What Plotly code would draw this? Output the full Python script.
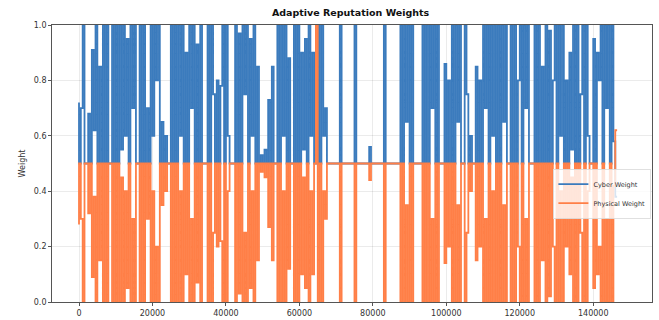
import plotly.graph_objects as go

# time steps (samples every 500 units)
time_step = list(range(0, 147000, 500))

cyber_weight = [
    0.72, 0.5, 0.70, 1.0, 0.5, 0.5, 0.68, 0.5, 0.91, 0.62,
    1.0, 0.5, 0.85, 0.5, 1.0, 0.5, 1.0, 0.5, 0.5, 1.0,
    0.5, 1.0, 0.5, 1.0, 0.55, 1.0, 0.6, 0.95, 0.5, 1.0,
    0.7, 1.0, 0.5, 0.5, 1.0, 0.5, 1.0, 0.5, 0.7, 0.5,
    1.0, 0.6, 1.0, 0.8, 1.0, 0.5, 0.65, 0.5, 0.6, 0.5,
    0.5, 1.0, 0.5, 1.0, 0.5, 1.0, 0.6, 1.0, 0.5, 0.9,
    0.5, 1.0, 0.7, 1.0, 0.5, 0.93, 0.5, 1.0, 0.5, 0.5,
    0.5, 1.0, 0.5, 1.0, 0.75, 0.5, 0.8, 0.5, 0.78, 1.0,
    0.5, 1.0, 0.6, 0.5, 0.5, 0.5, 1.0, 0.5, 0.97, 0.5,
    1.0, 0.75, 1.0, 0.5, 0.95, 0.6, 1.0, 0.5, 0.85, 0.5,
    0.53, 0.5, 0.55, 0.5, 0.73, 0.5, 0.85, 0.5, 0.5, 1.0,
    0.5, 1.0, 0.6, 1.0, 0.5, 0.88, 0.5, 0.5, 1.0, 0.5,
    1.0, 0.5, 0.9, 0.55, 0.95, 0.5, 1.0, 0.6, 0.9, 0.5,
    0.5, 1.0, 0.5, 1.0, 0.6, 0.7, 0.5, 0.5, 0.5, 0.5,
    0.5, 0.5, 0.5, 1.0, 0.5, 0.5, 0.5, 0.5, 0.5, 0.5,
    0.5, 1.0, 0.5, 0.5, 0.5, 0.5, 0.5, 0.5, 0.5, 0.56,
    0.5, 0.5, 0.5, 0.5, 0.5, 0.5, 0.5, 1.0, 0.5, 0.5,
    0.5, 0.5, 0.5, 0.5, 0.5, 0.5, 1.0, 0.5, 1.0, 0.65,
    1.0, 0.5, 1.0, 0.5, 0.5, 0.5, 0.5, 0.5, 1.0, 0.5,
    1.0, 0.5, 1.0, 0.7, 1.0, 0.5, 1.0, 0.5, 0.5, 0.5,
    0.86, 0.5, 0.8, 0.5, 1.0, 0.5, 1.0, 0.65, 1.0, 0.5,
    0.5, 1.0, 0.75, 0.5, 0.6, 0.5, 0.5, 0.85, 0.5, 0.8,
    0.5, 1.0, 0.7, 1.0, 0.5, 1.0, 0.6, 1.0, 0.5, 1.0,
    0.5, 1.0, 0.65, 1.0, 0.5, 0.5, 1.0, 0.5, 1.0, 0.5,
    0.8, 1.0, 0.5, 1.0, 0.7, 1.0, 0.5, 0.5, 0.5, 1.0,
    0.5, 1.0, 0.5, 0.85, 0.5, 1.0, 0.5, 0.98, 0.5, 0.8,
    1.0, 0.5, 1.0, 0.6, 1.0, 0.5, 0.8, 0.5, 0.9, 0.55,
    1.0, 0.5, 1.0, 0.5, 0.75, 1.0, 0.5, 1.0, 0.6, 0.5,
    0.5, 0.95, 0.5, 0.9, 0.8, 1.0, 0.5, 1.0, 0.7, 1.0,
    0.5, 1.0, 0.58, 0.38,
]

physical_weight = [
    0.28, 0.5, 0.30, 0.0, 0.5, 0.5, 0.32, 0.5, 0.09, 0.38,
    0.0, 0.5, 0.15, 0.5, 0.0, 0.5, 0.0, 0.5, 0.5, 0.0,
    0.5, 0.0, 0.5, 0.0, 0.45, 0.0, 0.4, 0.05, 0.5, 0.0,
    0.3, 0.0, 0.5, 0.5, 0.0, 0.5, 0.0, 0.5, 0.3, 0.5,
    0.0, 0.4, 0.0, 0.2, 0.0, 0.5, 0.35, 0.5, 0.4, 0.5,
    0.5, 0.0, 0.5, 0.0, 0.5, 0.0, 0.4, 0.0, 0.5, 0.1,
    0.5, 0.0, 0.3, 0.0, 0.5, 0.07, 0.5, 0.0, 0.5, 0.5,
    0.5, 0.0, 0.5, 0.0, 0.25, 0.5, 0.2, 0.5, 0.22, 0.0,
    0.5, 0.0, 0.4, 0.5, 0.5, 0.5, 0.0, 0.5, 0.03, 0.5,
    0.0, 0.25, 0.0, 0.5, 0.05, 0.4, 0.0, 0.5, 0.15, 0.5,
    0.47, 0.5, 0.45, 0.5, 0.27, 0.5, 0.15, 0.5, 0.5, 0.0,
    0.5, 0.0, 0.4, 0.0, 0.5, 0.12, 0.5, 0.5, 0.0, 0.5,
    0.0, 0.5, 0.1, 0.45, 0.05, 0.5, 0.0, 0.4, 0.1, 0.5,
    1.0, 0.0, 0.5, 0.0, 0.4, 0.3, 0.5, 0.5, 0.5, 0.5,
    0.5, 0.5, 0.5, 0.0, 0.5, 0.5, 0.5, 0.5, 0.5, 0.5,
    0.5, 0.0, 0.5, 0.5, 0.5, 0.5, 0.5, 0.5, 0.5, 0.44,
    0.5, 0.5, 0.5, 0.5, 0.5, 0.5, 0.5, 0.0, 0.5, 0.5,
    0.5, 0.5, 0.5, 0.5, 0.5, 0.5, 0.0, 0.5, 0.0, 0.35,
    0.0, 0.5, 0.0, 0.5, 0.5, 0.5, 0.5, 0.5, 0.0, 0.5,
    0.0, 0.5, 0.0, 0.3, 0.0, 0.5, 0.0, 0.5, 0.5, 0.5,
    0.14, 0.5, 0.2, 0.5, 0.0, 0.5, 0.0, 0.35, 0.0, 0.5,
    0.5, 0.0, 0.25, 0.5, 0.4, 0.5, 0.5, 0.15, 0.5, 0.2,
    0.5, 0.0, 0.3, 0.0, 0.5, 0.0, 0.4, 0.0, 0.5, 0.0,
    0.5, 0.0, 0.35, 0.0, 0.5, 0.5, 0.0, 0.5, 0.0, 0.5,
    0.2, 0.0, 0.5, 0.0, 0.3, 0.0, 0.5, 0.5, 0.5, 0.0,
    0.5, 0.0, 0.5, 0.15, 0.5, 0.0, 0.5, 0.02, 0.5, 0.2,
    0.0, 0.5, 0.0, 0.4, 0.0, 0.5, 0.2, 0.5, 0.1, 0.45,
    0.0, 0.5, 0.0, 0.5, 0.25, 0.0, 0.5, 0.0, 0.4, 0.5,
    0.5, 0.05, 0.5, 0.1, 0.2, 0.0, 0.5, 0.0, 0.3, 0.0,
    0.5, 0.0, 0.42, 0.62,
]

y_ticks = [0.0, 0.2, 0.4, 0.6, 0.8, 1.0]
y_tick_labels = ["0.0", "0.2", "0.4", "0.6", "0.8", "1.0"]
x_ticks = [0, 20000, 40000, 60000, 80000, 100000, 120000, 140000]
x_tick_labels = ["0", "20000", "40000", "60000", "80000", "100000", "120000", "140000"]

BLUE = "#3b7bbd"
ORANGE = "#ff7f47"

fig = go.Figure()
fig.add_trace(go.Scatter(
    x=time_step, y=cyber_weight, mode="lines", name="Cyber Weight",
    line=dict(color=BLUE, width=1.8, shape="vh"),
))
fig.add_trace(go.Scatter(
    x=time_step, y=physical_weight, mode="lines", name="Physical Weight",
    line=dict(color=ORANGE, width=1.8, shape="vh"),
))

font = "DejaVu Sans, Arial, sans-serif"
fig.update_layout(
    width=659, height=320,
    margin=dict(l=52, r=7, t=25, b=18, autoexpand=False),
    paper_bgcolor="white", plot_bgcolor="white",
    font=dict(family=font, size=8, color="#333333"),
    title=dict(text="<b>Adaptive Reputation Weights</b>", x=0.532, xanchor="center",
               y=0.96, yanchor="middle", font=dict(size=9.5, color="#111111")),
    showlegend=True,
    legend=dict(x=0.998, y=0.48, xanchor="right", yanchor="top",
                bgcolor="rgba(255,255,255,0.8)", bordercolor="#cccccc", borderwidth=0.6,
                font=dict(size=6.5, color="#333333"), itemwidth=30,
                tracegroupgap=0),
)
fig.update_xaxes(
    range=[-7350, 156000], tickvals=x_ticks, ticktext=x_tick_labels, automargin=False,
    showgrid=True, gridcolor="rgba(0,0,0,0.08)", gridwidth=0.6,
    zeroline=False, showline=True, linecolor="#555555", linewidth=0.8, mirror=True,
    ticks="outside", ticklen=3, tickcolor="#555555",
)
fig.update_yaxes(
    range=[0, 1.0], tickvals=y_ticks, ticktext=y_tick_labels, automargin=False,
    title=dict(text="Weight", font=dict(size=8), standoff=6),
    showgrid=True, gridcolor="rgba(0,0,0,0.08)", gridwidth=0.6,
    zeroline=False, showline=True, linecolor="#555555", linewidth=0.8, mirror=True,
    ticks="outside", ticklen=3, tickcolor="#555555",
)

fig.write_html("out.html", config={"displayModeBar": False},
               post_script="document.body.style.margin='0';document.body.style.padding='0';")
